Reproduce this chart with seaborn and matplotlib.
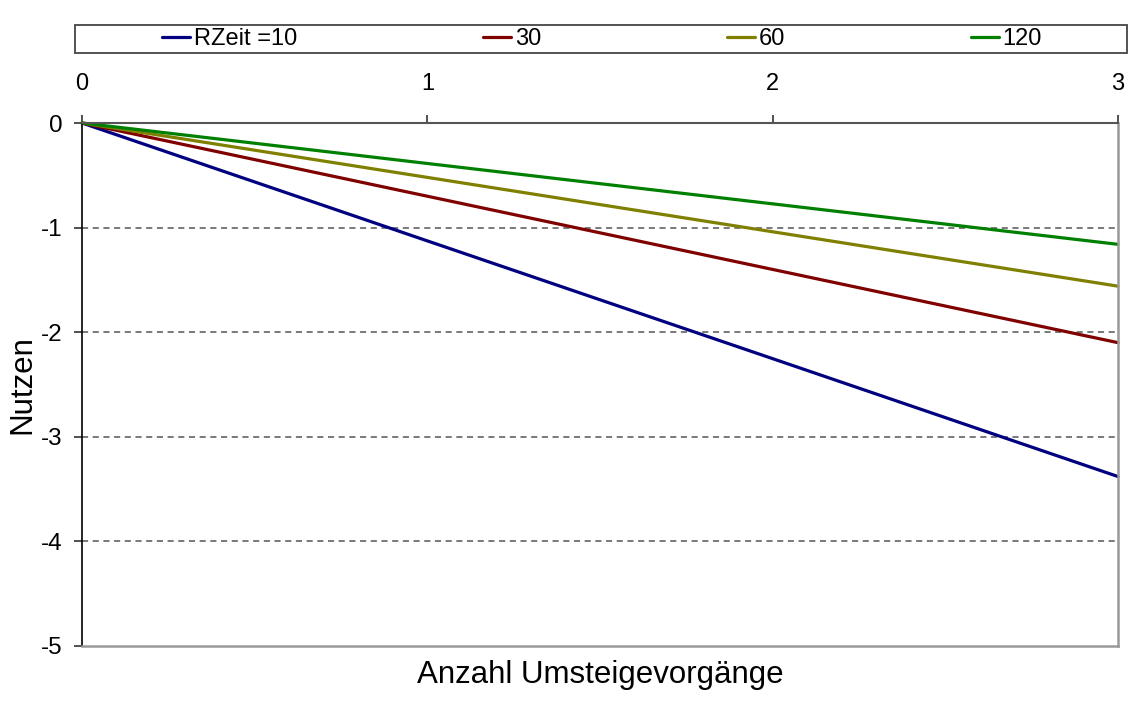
import numpy as np
import pandas as pd
import matplotlib
matplotlib.use("Agg")
import matplotlib.pyplot as plt
from matplotlib.patches import Rectangle
import seaborn as sns

# Number of transfers and resulting utility for each travel-time level
umstiege = [0, 1, 2, 3]
nutzen_10 = [0.0, -1.127, -2.253, -3.38]
nutzen_30 = [0.0, -0.70, -1.40, -2.10]
nutzen_60 = [0.0, -0.52, -1.04, -1.56]
nutzen_120 = [0.0, -0.387, -0.773, -1.16]

serien = ["RZeit =10", "30", "60", "120"]
farben = ["#000080", "#800000", "#808000", "#008000"]
x_ticks = [0, 1, 2, 3]
y_ticks = [0, -1, -2, -3, -4, -5]

df = pd.concat([
    pd.DataFrame({"Umstiege": umstiege, "Nutzen": werte, "Serie": name})
    for name, werte in zip(serien, [nutzen_10, nutzen_30, nutzen_60, nutzen_120])
])

sns.set_style("white")
plt.rcParams["font.family"] = ["Liberation Sans", "DejaVu Sans"]
plt.rcParams["text.color"] = "black"
plt.rcParams["axes.labelcolor"] = "black"
plt.rcParams["xtick.color"] = "black"
plt.rcParams["ytick.color"] = "black"

W, H = 1131, 702
fig = plt.figure(figsize=(W / 100, H / 100), dpi=100)
ax = fig.add_axes([82 / W, 1 - 646 / H, (1118 - 82) / W, (646 - 123) / H])

sns.lineplot(data=df, x="Umstiege", y="Nutzen", hue="Serie", hue_order=serien,
             palette=farben, linewidth=2.3, ax=ax, legend=False, clip_on=False)

ax.set_xlim(0, 3)
ax.set_ylim(-5, 0)
ax.set_xticks(x_ticks)
ax.set_yticks(y_ticks)
ax.set_xticklabels([str(t) for t in x_ticks])
ax.set_yticklabels([str(t) for t in y_ticks])
ax.xaxis.tick_top()
ax.tick_params(axis="x", direction="out", length=6, width=1.2, color="#333333",
               labelcolor="black", labelsize=17, pad=14, top=True, bottom=False)
ax.tick_params(axis="y", direction="out", length=6, width=1.2, color="#333333",
               labelcolor="black", labelsize=17.5, pad=8, left=True)

# dashed gridlines at the interior integer levels
for yv in [-1, -2, -3, -4]:
    ax.axhline(yv, color="#555555", linestyle=(0, (4, 3)), linewidth=1.1, zorder=0)

ax.spines["top"].set_color("#555555")
ax.spines["top"].set_linewidth(1.5)
ax.spines["left"].set_color("#000000")
ax.spines["left"].set_linewidth(1.2)
for s in ["right", "bottom"]:
    ax.spines[s].set_color("#999999")
    ax.spines[s].set_linewidth(1.8)

ax.set_xlabel("Anzahl Umsteigevorgänge", fontsize=22.5, color="black")
ax.xaxis.set_label_position("bottom")
ax.xaxis.set_label_coords(0.5, -0.026)
ax.set_ylabel("Nutzen", fontsize=22.5, color="black")
ax.yaxis.set_label_coords(-0.043, 0.5)

# legend with a separate frame across the top
fig.patches.append(Rectangle((75 / W, 1 - 53 / H), (1127 - 75) / W, 28 / H,
                             transform=fig.transFigure, fill=False,
                             edgecolor="#444444", linewidth=1.3))
handles = [plt.Line2D([], [], color=c, linewidth=2.3) for c in farben]
fig.legend(handles, serien, loc="center left",
           bbox_to_anchor=(162 / W, 1 - 39 / H, (1042 - 162) / W, 0.0),
           mode="expand", ncol=4, frameon=False, fontsize=17, labelcolor="black",
           handlelength=1.2, handletextpad=0.15, borderpad=0, borderaxespad=0)

fig.savefig("out.png", dpi=100)
